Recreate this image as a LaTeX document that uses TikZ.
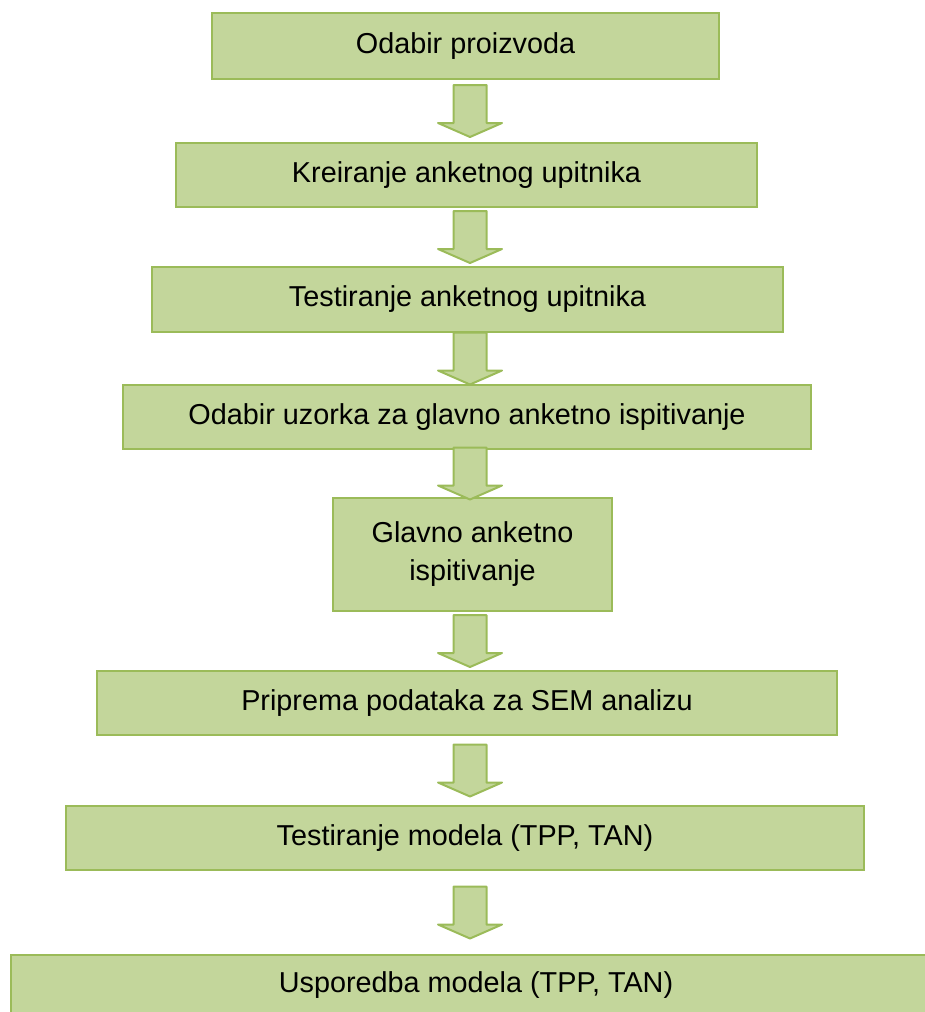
\documentclass[tikz,border=0pt]{standalone}
\usepackage{fontspec}
\setmainfont{Liberation Sans}
\usetikzlibrary{calc}
\definecolor{boxfill}{HTML}{C3D69B}
\definecolor{boxline}{HTML}{9BBB59}

\begin{document}
\begin{tikzpicture}[x=1pt,y=-1pt,
    stepbox/.style={draw=boxline,fill=boxfill,line width=2.5pt,inner sep=0pt,
        align=center,font=\fontsize{28.8}{38}\selectfont},
    blockarrow/.style={draw=boxline,fill=boxfill,line width=2pt,line join=round}]
    \useasboundingbox (0,0) rectangle (925,1012);
    % steps of the survey procedure
    \foreach \n/\x/\y/\w/\h/\t in {b1/465.5/46/507/66/{Odabir proizvoda},
        b2/466.5/175/581/64/{Kreiranje anketnog upitnika},
        b3/467.5/299.5/631/65/{Testiranje anketnog upitnika},
        b4/467/417/688/64/{Odabir uzorka za glavno anketno ispitivanje},
        b5/472.5/554.5/279/113/{Glavno anketno\\ispitivanje},
        b6/467/703/740/64/{Priprema podataka za SEM analizu},
        b7/465/838/798/64/{Testiranje modela (TPP, TAN)},
        b8/476/985.5/930/61/{Usporedba modela (TPP, TAN)}}
    {
        \node[stepbox,minimum width=\w pt,minimum height=\h pt] (\n) at (\x,\y) {\t};
    }
    % block arrows between the steps
    \foreach \a/\b in {b1/b2,b2/b3,b3/b4,b4/b5,b5/b6,b6/b7,b7/b8}
    {
        \coordinate (m) at ($(\a.south)!0.5!(\b.north)$);
        \draw[blockarrow] (470,0 |- m) ++(-16.5,-26) -- ++(33,0) -- ++(0,38)
            -- ++(15.5,0) -- ++(-32,14) -- ++(-32,-14) -- ++(15.5,0) -- cycle;
    }
\end{tikzpicture}
\end{document}
